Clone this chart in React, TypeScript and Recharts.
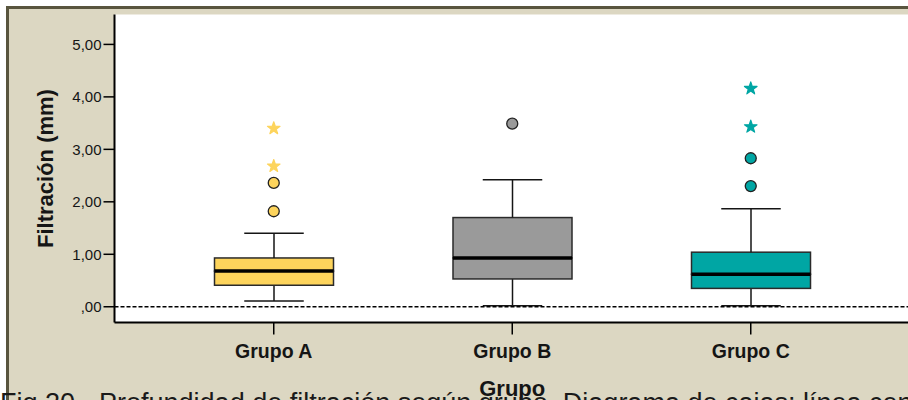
import { ComposedChart, Bar, Scatter, XAxis, YAxis, CartesianGrid, ReferenceLine } from 'recharts';

const groups = ['Grupo A', 'Grupo B', 'Grupo C'];
const groupColors = ['#FDD45C', '#9A9A9A', '#00A6A4'];

// box plot summaries (mm)
const whiskerLow = [0.11, 0.02, 0.02];
const q1 = [0.41, 0.53, 0.35];
const median = [0.68, 0.93, 0.62];
const q3 = [0.93, 1.70, 1.04];
const whiskerHigh = [1.40, 2.42, 1.87];

// outliers (circles) and extreme values (stars)
const outlierCircles = [[1.82, 2.36], [3.49], [2.30, 2.83]];
const extremeStars = [[2.68, 3.40], [], [3.43, 4.16]];

const yTicks = [0, 1, 2, 3, 4, 5];

const font = '"Liberation Sans", Arial, sans-serif';
const ink = '#151515';

const rows = groups.map((group, i) => ({
  group,
  color: groupColors[i],
  base: whiskerLow[i],
  lowWhisker: q1[i] - whiskerLow[i],
  lowerBox: median[i] - q1[i],
  upperBox: q3[i] - median[i],
  highWhisker: whiskerHigh[i] - q3[i],
  c0: outlierCircles[i][0] ?? null,
  c1: outlierCircles[i][1] ?? null,
  s0: extremeStars[i][0] ?? null,
  s1: extremeStars[i][1] ?? null,
}));

const fmtTick = (v: number) => (v === 0 ? ',00' : v.toFixed(2).replace('.', ','));

const LowWhisker = (p: any) => {
  const cx = p.x + p.width / 2;
  const yb = p.y + p.height;
  return (
    <g>
      <line x1={cx} x2={cx} y1={p.y} y2={yb} stroke={ink} strokeWidth={1.5} />
      <line x1={p.x + p.width / 4} x2={p.x + (p.width * 3) / 4} y1={yb} y2={yb} stroke={ink} strokeWidth={1.5} />
    </g>
  );
};

const HighWhisker = (p: any) => {
  const cx = p.x + p.width / 2;
  return (
    <g>
      <line x1={cx} x2={cx} y1={p.y} y2={p.y + p.height} stroke={ink} strokeWidth={1.5} />
      <line x1={p.x + p.width / 4} x2={p.x + (p.width * 3) / 4} y1={p.y} y2={p.y} stroke={ink} strokeWidth={1.5} />
    </g>
  );
};

const LowerBox = (p: any) => (
  <rect x={p.x} y={p.y} width={p.width} height={p.height} fill={p.payload.color} stroke="#2a2a2a" strokeWidth={1.5} />
);

// upper half of the box, plus the median line on its lower edge
const UpperBox = (p: any) => (
  <g>
    <rect x={p.x} y={p.y} width={p.width} height={p.height} fill={p.payload.color} stroke="#2a2a2a" strokeWidth={1.5} />
    <line x1={p.x} x2={p.x + p.width} y1={p.y + p.height} y2={p.y + p.height} stroke="#000" strokeWidth={3.5} />
  </g>
);

const circleShape = (key: string) => (p: any) => {
  if (p.payload[key] == null) return <g />;
  return <circle cx={p.cx} cy={p.cy} r={5.5} fill={p.payload.color} stroke="#222" strokeWidth={1.3} />;
};

const starShape = (key: string) => (p: any) => {
  if (p.payload[key] == null) return <g />;
  const pts: string[] = [];
  for (let k = 0; k < 10; k++) {
    const r = k % 2 === 0 ? 6.6 : 2.6;
    const a = -Math.PI / 2 + (k * Math.PI) / 5;
    pts.push(`${p.cx + r * Math.cos(a)},${p.cy + r * Math.sin(a)}`);
  }
  return <polygon points={pts.join(' ')} fill={p.payload.color} stroke={p.payload.color} strokeWidth={1.2} strokeLinejoin="round" />;
};

const YTitle = (props: any) => {
  const vb = props.viewBox;
  const cx = vb.x + 45;
  const cy = vb.y + vb.height / 2;
  return (
    <text
      x={cx}
      y={cy}
      transform={`rotate(-90 ${cx} ${cy})`}
      textAnchor="middle"
      dominantBaseline="central"
      fontFamily={font}
      fontWeight="bold"
      fontSize={22}
      fill={ink}
    >
      Filtración (mm)
    </text>
  );
};

export default function App() {
  return (
    <div style={{ position: 'absolute', left: 0, top: 0, width: 908, height: 400, overflow: 'hidden', background: '#fff' }}>
      <div
        style={{
          position: 'absolute',
          left: 6,
          top: 6,
          width: 940,
          height: 430,
          background: '#DCD7C2',
          borderTop: '3px solid #59553e',
          borderLeft: '3px solid #59553e',
        }}
      />
      <div style={{ position: 'absolute', left: 0, top: 0 }}>
        <ComposedChart width={920} height={400} data={rows} margin={{ top: 14.5, right: 10, bottom: 0, left: 0 }}>
          <CartesianGrid fill="#fff" stroke="none" horizontal={false} vertical={false} />
          <XAxis
            dataKey="group"
            type="category"
            padding={{ left: 40, right: 40 }}
            height={77.5}
            tickSize={12}
            tickMargin={9.5}
            axisLine={{ stroke: '#000', strokeWidth: 2 }}
            tickLine={{ stroke: '#000', strokeWidth: 1.5 }}
            tick={{ fill: ink, fontFamily: font, fontWeight: 'bold', fontSize: 19.5 }}
            label={{ value: 'Grupo', position: 'insideBottom', offset: 4, fill: ink, fontFamily: font, fontWeight: 'bold', fontSize: 22 }}
          />
          <XAxis xAxisId="top" orientation="top" height={0} tick={false} tickLine={false} axisLine={{ stroke: '#000', strokeWidth: 2 }} />
          <YAxis
            type="number"
            domain={[-0.3, 5.57]}
            allowDataOverflow
            ticks={yTicks}
            tickFormatter={fmtTick}
            width={114.5}
            tickSize={11}
            tickMargin={2}
            axisLine={{ stroke: '#000', strokeWidth: 2 }}
            tickLine={{ stroke: '#000', strokeWidth: 1.5 }}
            tick={{ fill: ink, fontFamily: font, fontSize: 15 }}
            label={<YTitle />}
          />
          <ReferenceLine y={0} stroke="#000" strokeWidth={1.5} strokeDasharray="4 2" />
          <Bar dataKey="base" stackId="box" barSize={119} fill="none" isAnimationActive={false} />
          <Bar dataKey="lowWhisker" stackId="box" barSize={119} shape={LowWhisker} isAnimationActive={false} />
          <Bar dataKey="lowerBox" stackId="box" barSize={119} shape={LowerBox} isAnimationActive={false} />
          <Bar dataKey="upperBox" stackId="box" barSize={119} shape={UpperBox} isAnimationActive={false} />
          <Bar dataKey="highWhisker" stackId="box" barSize={119} shape={HighWhisker} isAnimationActive={false} />
          <Scatter dataKey="c0" shape={circleShape('c0')} isAnimationActive={false} />
          <Scatter dataKey="c1" shape={circleShape('c1')} isAnimationActive={false} />
          <Scatter dataKey="s0" shape={starShape('s0')} isAnimationActive={false} />
          <Scatter dataKey="s1" shape={starShape('s1')} isAnimationActive={false} />
        </ComposedChart>
      </div>
      <div
        style={{
          position: 'absolute',
          left: 0,
          top: 390,
          fontFamily: font,
          fontSize: 27,
          lineHeight: '27px',
          color: '#1a1a1a',
          whiteSpace: 'nowrap',
        }}
      >
        Fig 20 - Profundidad de filtración según grupo. Diagrama de cajas: línea central
      </div>
    </div>
  );
}
